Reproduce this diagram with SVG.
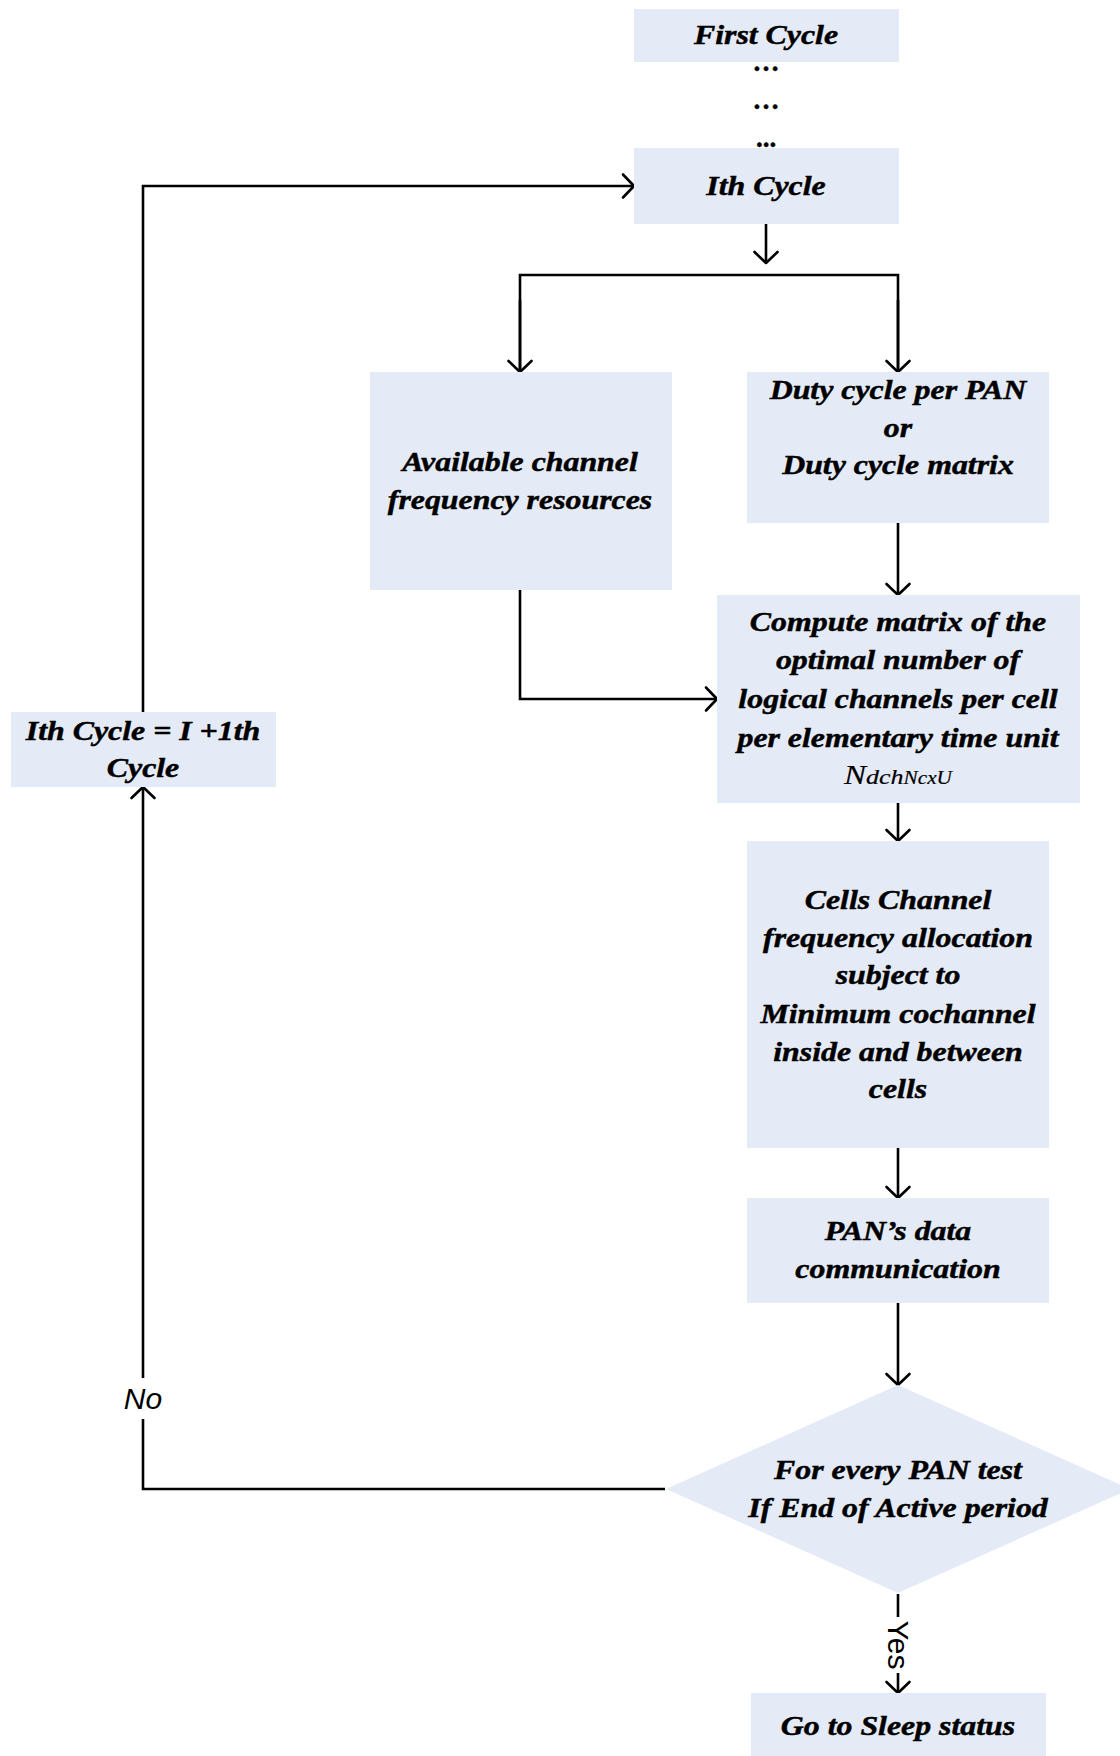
<svg xmlns="http://www.w3.org/2000/svg" width="1120" height="1756" viewBox="0 0 1120 1756">
<style>
.box{fill:#E5EBF6;stroke:none}
.t{font-family:"Liberation Serif","Times New Roman",serif;font-weight:bold;font-style:italic;font-size:27px;text-anchor:middle;fill:#000;stroke:#000;stroke-width:0.45}
.ln{fill:none;stroke:#000;stroke-width:2.6}
.lbl{font-family:"Liberation Sans",Arial,sans-serif;font-size:30px;fill:#000;text-anchor:middle}
</style>
<defs>
<marker id="ah" markerUnits="userSpaceOnUse" markerWidth="16" markerHeight="28" viewBox="0 0 16 28" refX="14" refY="14" orient="auto">
<path d="M3,2.5 L14,14 L3,25.5" fill="none" stroke="#000" stroke-width="2.6" stroke-linejoin="round" stroke-linecap="round"/>
</marker>
</defs>
<rect width="1120" height="1756" fill="#fff"/>

<g id="connectors">
<line class="ln" x1="766" y1="224" x2="766" y2="263" marker-end="url(#ah)"/>
<polyline class="ln" points="520,372 520,275 898,275 898,372" />
<line class="ln" x1="520" y1="300" x2="520" y2="372" marker-end="url(#ah)"/>
<line class="ln" x1="898" y1="300" x2="898" y2="372" marker-end="url(#ah)"/>
<line class="ln" x1="898" y1="523" x2="898" y2="595" marker-end="url(#ah)"/>
<polyline class="ln" points="520,590 520,699 717,699" marker-end="url(#ah)"/>
<line class="ln" x1="898" y1="803" x2="898" y2="841" marker-end="url(#ah)"/>
<line class="ln" x1="898" y1="1148" x2="898" y2="1198" marker-end="url(#ah)"/>
<line class="ln" x1="898" y1="1303" x2="898" y2="1385" marker-end="url(#ah)"/>
<line class="ln" x1="898" y1="1594" x2="898" y2="1617"/>
<line class="ln" x1="898" y1="1673" x2="898" y2="1693" marker-end="url(#ah)"/>
<text class="lbl" transform="translate(888,1645) rotate(90)" y="0">Yes</text>
<polyline class="ln" points="665,1489 143,1489 143,1419"/>
<line class="ln" x1="143" y1="1378" x2="143" y2="787" marker-end="url(#ah)"/>
<text class="lbl" x="143" y="1409" font-style="italic">No</text>
<polyline class="ln" points="143,712 143,186 634,186" marker-end="url(#ah)"/>
</g>

<g id="first-cycle">
<rect class="box" x="634" y="9" width="265" height="53"/>
<g transform="translate(766,0) scale(1.18,1)"><text class="t" x="0" y="44">First Cycle</text></g>
</g>
<g id="dots">
<text class="t" x="766" y="71" style="font-style:normal">…</text>
<text class="t" x="766" y="109" style="font-style:normal">…</text>
<text class="t" x="766" y="147" style="font-style:normal">...</text>
</g>
<g id="ith-cycle">
<rect class="box" x="634" y="148" width="265" height="76"/>
<g transform="translate(766,0) scale(1.18,1)"><text class="t" x="0" y="195">Ith Cycle</text></g>
</g>
<g id="available">
<rect class="box" x="370" y="372" width="302" height="218"/>
<g transform="translate(520,0) scale(1.18,1)">
<text class="t" x="0" y="471">Available channel</text>
<text class="t" x="0" y="509">frequency resources</text>
</g>
</g>
<g id="duty">
<rect class="box" x="747" y="372" width="302" height="151"/>
<g transform="translate(898,0) scale(1.18,1)">
<text class="t" x="0" y="399">Duty cycle per PAN</text>
<text class="t" x="0" y="437">or</text>
<text class="t" x="0" y="474">Duty cycle matrix</text>
</g>
</g>
<g id="compute">
<rect class="box" x="717" y="595" width="363" height="208"/>
<g transform="translate(898,0) scale(1.18,1)">
<text class="t" x="0" y="631">Compute matrix of the</text>
<text class="t" x="0" y="669">optimal number of</text>
<text class="t" x="0" y="708">logical channels per cell</text>
<text class="t" x="0" y="747">per elementary time unit</text>
<text class="t" x="0" y="784" style="font-weight:normal;stroke-width:0.2"><tspan font-size="28">N</tspan><tspan font-size="22">dch</tspan><tspan font-size="18">NcxU</tspan></text>
</g>
</g>
<g id="cells">
<rect class="box" x="747" y="841" width="302" height="307"/>
<g transform="translate(898,0) scale(1.18,1)">
<text class="t" x="0" y="909">Cells Channel</text>
<text class="t" x="0" y="947">frequency allocation</text>
<text class="t" x="0" y="984">subject to</text>
<text class="t" x="0" y="1023">Minimum cochannel</text>
<text class="t" x="0" y="1061">inside and between</text>
<text class="t" x="0" y="1098">cells</text>
</g>
</g>
<g id="pan-data">
<rect class="box" x="747" y="1198" width="302" height="105"/>
<g transform="translate(898,0) scale(1.18,1)">
<text class="t" x="0" y="1240">PAN’s data</text>
<text class="t" x="0" y="1278">communication</text>
</g>
</g>
<g id="decision">
<polygon class="box" points="898,1385 1130,1489 898,1593 666,1489"/>
<g transform="translate(898,0) scale(1.18,1)">
<text class="t" x="0" y="1479">For every PAN test</text>
<text class="t" x="0" y="1517">If End of Active period</text>
</g>
</g>
<g id="next-cycle">
<rect class="box" x="11" y="712" width="265" height="75"/>
<g transform="translate(143,0) scale(1.18,1)">
<text class="t" x="0" y="740">Ith Cycle = I +1th</text>
<text class="t" x="0" y="777">Cycle</text>
</g>
</g>
<g id="sleep">
<rect class="box" x="751" y="1693" width="295" height="63"/>
<g transform="translate(898,0) scale(1.18,1)"><text class="t" x="0" y="1735">Go to Sleep status</text></g>
</g>
</svg>
